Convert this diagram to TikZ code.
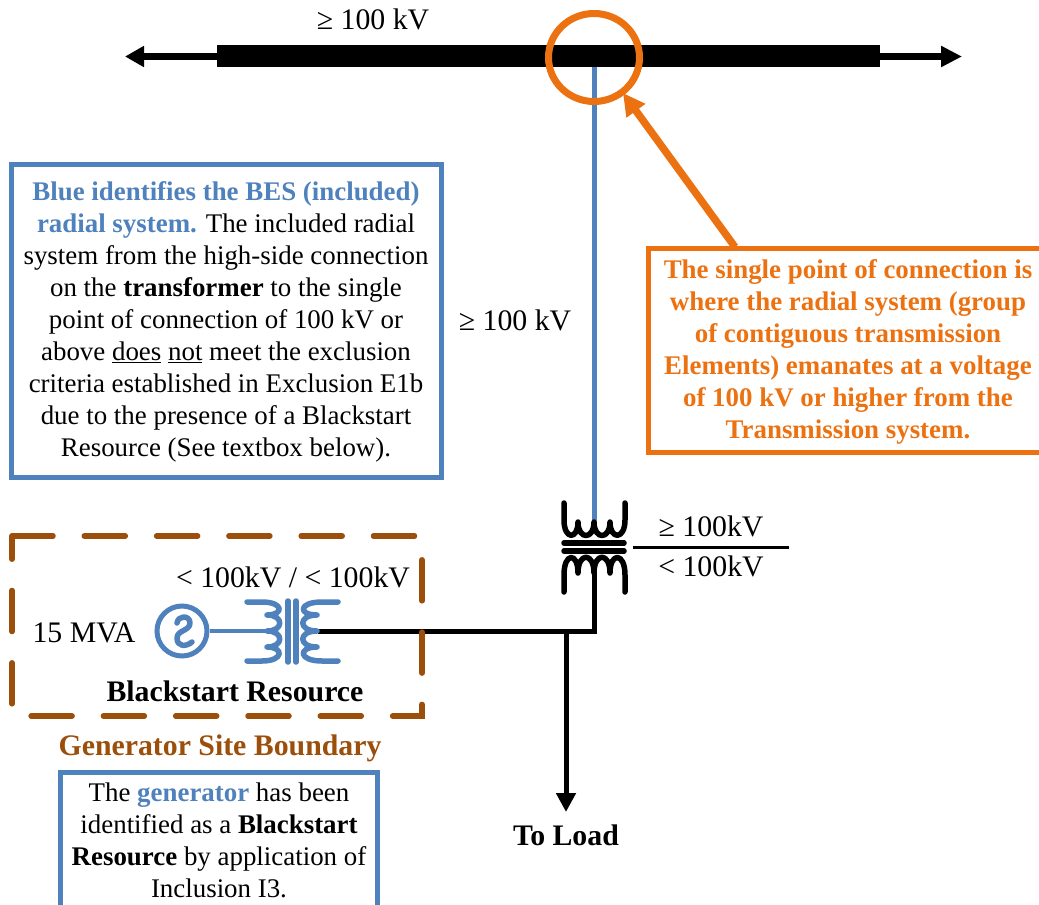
\documentclass[tikz,border=0pt]{standalone}
\usepackage{fontspec}
\setmainfont{Liberation Serif}
\usetikzlibrary{arrows.meta,shapes.geometric}
\definecolor{bluec}{HTML}{4F81BD}
\definecolor{orangec}{HTML}{EC7211}
\definecolor{brownc}{HTML}{9C4F0B}
\tikzset{
  boxtxt/.style={font=\fontsize{26.9}{32}\selectfont,inner sep=0pt,align=center},
  lab/.style={font=\fontsize{29.8}{32}\selectfont,inner sep=0pt,anchor=base},
  blab/.style={lab,font=\fontsize{29.8}{32}\selectfont\bfseries},
  wind/.style={line width=5.5pt,line cap=round,line join=round},
  blk/.style={line width=5pt,black},
  buswire/.style={line width=6.5pt,black,{Triangle[length=19pt,width=20pt]}-{Triangle[length=21pt,width=20pt]}},
  framebox/.style={draw,line width=5pt,inner sep=0pt},
}
\newcommand{\hl}[1]{\textcolor{bluec}{\textbf{#1}}}
\begin{document}
\begin{tikzpicture}[x=1pt,y=-1pt]
\clip (0,0) rectangle (1039,905);
% bus
\coordinate (busL) at (125,56.5);
\coordinate (busR) at (962,56.5);
\draw[buswire] (busL) -- (busR);
\node[fill=black,minimum width=663pt,minimum height=22pt,inner sep=0pt] (busbar) at (548.5,56) {};
% radial line
\coordinate (hv) at (594,524);
\draw[bluec,line width=5pt] (594,67) -- (hv);
% black wiring
\coordinate (lvTop) at (594,560);
\coordinate (corner) at (594,631.5);
\coordinate (tee) at (566,631.5);
\coordinate (gsu) at (318,631.5);
\coordinate (load) at (566,812);
\draw[blk,line join=miter] (lvTop) -- (corner) -- (gsu);
\draw[blk,-{Triangle[length=19pt,width=19pt]}] (tee) -- (load);
% main transformer
\draw[wind] (564,503) -- (564,520)
  .. controls (564,540) and (578,540) .. (578,522)
  .. controls (578,540) and (594,540) .. (594,522)
  .. controls (594,540) and (610,540) .. (610,522)
  .. controls (610,540) and (625,540) .. (625,520) -- (625,503);
\draw[wind] (564,592) -- (564,575)
  .. controls (564,552) and (578,552) .. (578,573)
  .. controls (578,552) and (594,552) .. (594,573)
  .. controls (594,552) and (610,552) .. (610,573)
  .. controls (610,552) and (625,552) .. (625,575) -- (625,592);
\draw[wind] (564,543) -- (624,543);
\draw[wind] (564,551) -- (624,551);
\draw[line width=3.5pt] (633,547.5) -- (789,547.5);
% generator
\node[draw=bluec,line width=5pt,circle,minimum size=50pt,inner sep=0pt] (gen) at (182,631) {};
\draw[bluec,wind] (177,623) .. controls (178,615) and (190,615) .. (190,623)
  .. controls (190,631) and (177,630) .. (177,638)
  .. controls (177,647) and (186,647) .. (192,642);
\draw[bluec,line width=4pt] (gen) -- (268,631);
% blackstart transformer
\draw[bluec,wind] (247,602) -- (262,602)
  .. controls (284,602) and (284,615) .. (267,615)
  .. controls (284,615) and (284,631) .. (267,631)
  .. controls (284,631) and (284,647) .. (267,647)
  .. controls (284,647) and (284,661) .. (262,661) -- (247,661);
\draw[bluec,wind] (338,602) -- (322,602)
  .. controls (298,602) and (298,615) .. (317,615)
  .. controls (298,615) and (298,631) .. (317,631)
  .. controls (298,631) and (298,647) .. (317,647)
  .. controls (298,647) and (298,661) .. (322,661) -- (338,661);
\draw[bluec,wind] (288,601) -- (288,662);
\draw[bluec,wind] (296,601) -- (296,662);
% site boundary
\draw[brownc,line width=5.5pt,line cap=round,dash pattern=on 41pt off 31.3pt]
  (12,536) -- (422,536) -- (422,716) -- (12,716) -- (12,536);
% orange highlight
\node[draw=orangec,line width=7pt,ellipse,minimum width=91pt,minimum height=88pt,inner sep=0pt] (poc) at (594,57.5) {};
% text boxes
\node[framebox,draw=bluec,minimum width=430pt,minimum height=313pt] (boxA) at (226,320.5) {};
\node[boxtxt] (boxAtext) at (226,321.5) {%
  \textcolor{bluec}{\textbf{Blue identifies the BES (included)}}\\
  \textcolor{bluec}{\textbf{radial system.}} The included radial\\
  system from the high-side connection\\
  on the \textbf{transformer} to the single\\
  point of connection of 100 kV or\\
  above \underline{does} \underline{not} meet the exclusion\\
  criteria established in Exclusion E1b\\
  due to the presence of a Blackstart\\
  Resource (See textbox below).};
\node[framebox,draw=orangec,minimum width=400pt,minimum height=204pt] (boxB) at (848,350) {};
\node[boxtxt,text=orangec,font=\fontsize{26.9}{32}\selectfont\bfseries] (boxBtext) at (848,352) {%
  The single point of connection is\\
  where the radial system (group\\
  of contiguous transmission\\
  Elements) emanates at a voltage\\
  of 100 kV or higher from the\\
  Transmission system.};
\node[framebox,draw=bluec,minimum width=317pt,minimum height=136pt] (boxC) at (218.5,840) {};
\node[boxtxt] (boxCtext) at (219,840) {%
  The \hl{generator} has been\\
  identified as a \textbf{Blackstart}\\
  \textbf{Resource} by application of\\
  Inclusion I3.};
\coordinate (arrowStart) at (735,247);
\coordinate (arrowTip) at (623,93);
\draw[orangec,line width=7.5pt,-{Triangle[length=22pt,width=22pt]}] (arrowStart) -- (arrowTip);
% labels
\node[lab] (l1) at (373,29) {≥ 100 kV};
\node[lab] (l2) at (515,330) {≥ 100 kV};
\node[lab] (l3) at (711,536) {≥ 100kV};
\node[lab] (l4) at (711,576) {< 100kV};
\node[lab] (l5) at (293,587) {< 100kV / < 100kV};
\node[lab] (l6) at (84,642) {15 MVA};
\node[blab] (l7) at (235,701) {Blackstart Resource};
\node[blab,text=brownc] (l8) at (220,755) {Generator Site Boundary};
\node[blab] (l9) at (566,845) {To Load};
\end{tikzpicture}
\end{document}
